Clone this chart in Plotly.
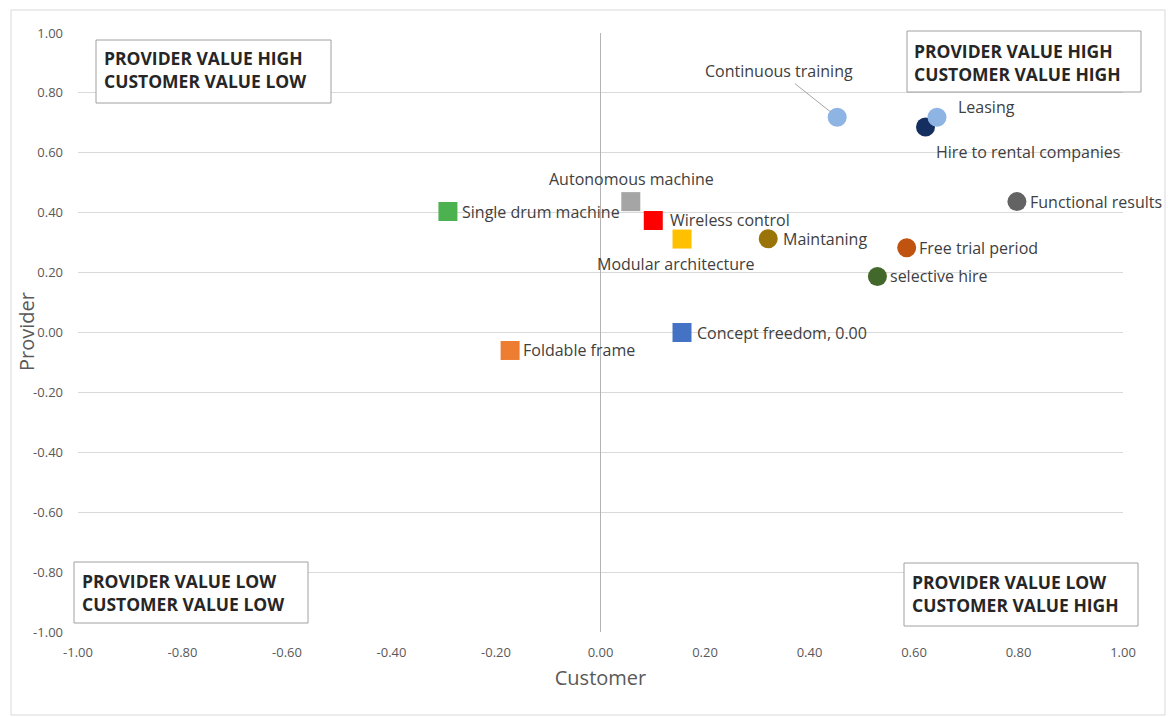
import plotly.graph_objects as go

# ---- data ----
names = ["Continuous training", "Hire to rental companies", "Leasing", "Functional results",
         "Autonomous machine", "Single drum machine", "Wireless control", "Modular architecture",
         "Maintaning", "Free trial period", "selective hire", "Concept freedom", "Foldable frame"]
customer = [0.453, 0.622, 0.644, 0.797, 0.058, -0.292, 0.101, 0.156, 0.321, 0.586, 0.530, 0.156, -0.173]
provider = [0.719, 0.686, 0.719, 0.437, 0.437, 0.404, 0.374, 0.312, 0.313, 0.283, 0.187, 0.000, -0.060]
symbols = ["circle", "circle", "circle", "circle", "square", "square", "square", "square",
           "circle", "circle", "circle", "square", "square"]
colors = ["#8EB4E3", "#132E5F", "#8EB4E3", "#636363", "#A5A5A5", "#4CB14F", "#FF0000", "#FFC000",
          "#9A7408", "#BF530F", "#43682B", "#4472C4", "#ED7D31"]
display_text = ["Continuous training", "Hire to rental companies", "Leasing", "Functional results",
                "Autonomous machine", "Single drum machine", "Wireless control", "Modular architecture",
                "Maintaning", "Free trial period", "selective hire", "Concept freedom, 0.00", "Foldable frame"]
quadrants = ["PROVIDER VALUE HIGH<br>CUSTOMER VALUE LOW", "PROVIDER VALUE HIGH<br>CUSTOMER VALUE HIGH",
             "PROVIDER VALUE LOW<br>CUSTOMER VALUE LOW", "PROVIDER VALUE LOW<br>CUSTOMER VALUE HIGH"]
tick_vals = [-1.0, -0.8, -0.6, -0.4, -0.2, 0.0, 0.2, 0.4, 0.6, 0.8, 1.0]
tick_text = ["%.2f" % v for v in tick_vals]
x_title = "Customer"
y_title = "Provider"

# ---- layout geometry (pixels) ----
W, H = 1168, 717
PL, PR, PT, PB = 78, 1123, 33, 632


def px(x):
    return (x - PL) / (PR - PL)


def py(y):
    return (PB - y) / (PB - PT)


FONT = "Open Sans"
TXT = "#404040"
AX = "#595959"

fig = go.Figure()
fig.add_trace(go.Scatter(
    x=customer, y=provider, mode="markers", text=names, hoverinfo="text",
    marker=dict(symbol=symbols, color=colors, size=19, line=dict(width=0)),
    showlegend=False,
))

# label placement (style): (xanchor, xshift, yshift)
label_pos = {
    "Continuous training": None,
    "Hire to rental companies": ("left", 8, -25),
    "Leasing": ("left", 19, 10),
    "Functional results": ("left", 11, 0),
    "Autonomous machine": ("center", 1, 23),
    "Single drum machine": ("left", 12, 0),
    "Wireless control": ("left", 15, 0),
    "Modular architecture": ("center", -6, -25),
    "Maintaning": ("left", 13, 0),
    "Free trial period": ("left", 10, 0),
    "selective hire": ("left", 11, 0),
    "Concept freedom": ("left", 13, 0),
    "Foldable frame": ("left", 11, 0),
}
LBL_FONT = dict(family=FONT, size=16, color=TXT)

annotations = []
for n, t, cx, cy in zip(names, display_text, customer, provider):
    pos = label_pos[n]
    if pos is None:
        annotations.append(dict(x=cx, y=cy, xref="x", yref="y", text=t, showarrow=True,
                                arrowhead=0, arrowwidth=1, arrowcolor="#A6A6A6", ax=-58, ay=-46,
                                standoff=9, font=LBL_FONT))
    else:
        xa, xs, ys = pos
        annotations.append(dict(x=cx, y=cy, xref="x", yref="y", text=t, showarrow=False,
                                xanchor=xa, yanchor="middle", xshift=xs, yshift=ys,
                                font=LBL_FONT))

# quadrant boxes (pixel rects) and text anchors
boxes = [(96, 40, 331, 103), (907, 31, 1141, 92), (74, 562, 308, 623), (904, 563, 1138, 626)]
text_anchor = [(102, 70), (912, 62), (80, 592), (910, 593)]
shapes = []
for (x0, y0, x1, y1), (tx, ty), q in zip(boxes, text_anchor, quadrants):
    shapes.append(dict(type="rect", xref="paper", yref="paper", x0=px(x0), x1=px(x1), y0=py(y1), y1=py(y0),
                       line=dict(color="#A0A0A0", width=1), fillcolor="white", layer="above"))
    annotations.append(dict(x=px(tx), y=py(ty), xref="paper", yref="paper", text=q, showarrow=False,
                            xanchor="left", yanchor="middle", align="left",
                            font=dict(family=FONT, size=17.5, color="#262626", weight="bold")))

# y-axis title placed as rotated text left of the tick labels
annotations.append(dict(x=px(26), y=py(332), xref="paper", yref="paper", text=y_title, showarrow=False,
                        textangle=-90, xanchor="center", yanchor="middle",
                        font=dict(family=FONT, size=20, color=AX)))

# outer chart border
shapes.append(dict(type="rect", xref="paper", yref="paper", x0=px(11), x1=px(1165), y0=py(715), y1=py(10),
                   line=dict(color="#D9D9D9", width=1), fillcolor="rgba(0,0,0,0)", layer="below"))

fig.update_layout(
    width=W, height=H,
    margin=dict(l=PL, r=W - PR, t=PT, b=H - PB, autoexpand=False),
    paper_bgcolor="white", plot_bgcolor="white",
    font=dict(family=FONT, color=AX),
    shapes=shapes, annotations=annotations,
    xaxis=dict(range=[-1, 1], tickvals=tick_vals, ticktext=tick_text, showgrid=False,
               zeroline=True, zerolinecolor="#B4B4B4", zerolinewidth=1, showline=False,
               ticks="", ticklabelstandoff=11, tickfont=dict(size=13, color=AX),
               title=dict(text=x_title, font=dict(size=20, color=AX), standoff=10)),
    yaxis=dict(range=[-1, 1], tickvals=tick_vals, ticktext=tick_text, showgrid=True,
               gridcolor="#D9D9D9", gridwidth=1, zeroline=False, showline=False,
               ticks="", ticklabelstandoff=14, tickfont=dict(size=13, color=AX)),
)

fig.write_html("out.html")
